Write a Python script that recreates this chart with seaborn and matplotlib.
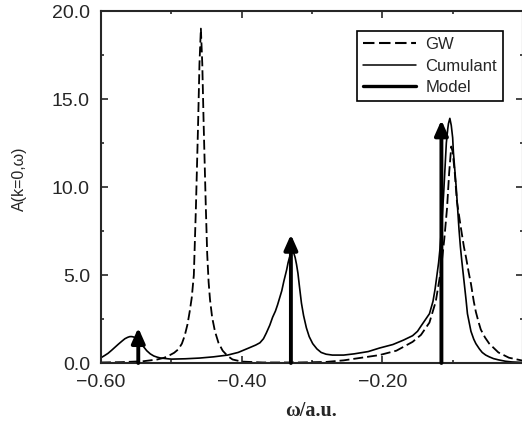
import matplotlib
matplotlib.use("Agg")
import matplotlib.pyplot as plt
import seaborn as sns
from matplotlib.lines import Line2D
from matplotlib.ticker import MultipleLocator

# --- valores ---
# GW (tracejado)
gw_omega = [-0.600, -0.570, -0.540, -0.520, -0.510, -0.502, -0.496, -0.490, -0.485, -0.481,
            -0.477, -0.474, -0.471, -0.468, -0.465, -0.462, -0.460, -0.458, -0.456, -0.454,
            -0.451, -0.449, -0.447, -0.445, -0.442, -0.438, -0.433, -0.427, -0.420, -0.413,
            -0.400, -0.370, -0.320, -0.280, -0.255, -0.233, -0.204, -0.180, -0.157, -0.145,
            -0.133, -0.124, -0.117, -0.112, -0.108, -0.105, -0.102, -0.100, -0.097, -0.094,
            -0.091, -0.088, -0.084, -0.081, -0.077, -0.074, -0.070, -0.067, -0.063, -0.060,
            -0.054, -0.048, -0.035, -0.020, 0.000]
gw_A = [0.03, 0.05, 0.10, 0.20, 0.30, 0.45, 0.58, 0.78, 1.10, 1.55,
        2.20, 2.90, 3.70, 5.00, 8.90, 13.5, 17.0, 19.0, 17.0, 13.5,
        8.90, 6.20, 4.60, 3.60, 2.60, 1.80, 1.15, 0.70, 0.40, 0.20,
        0.08, 0.03, 0.03, 0.06, 0.15, 0.28, 0.45, 0.70, 1.20, 1.60,
        2.30, 3.50, 5.20, 7.00, 8.80, 10.8, 12.3, 12.0, 10.8, 9.2,
        8.4, 7.6, 6.6, 6.0, 5.1, 4.5, 3.5, 2.9, 2.3, 1.9,
        1.45, 1.1, 0.6, 0.3, 0.13]

# Cumulante (linha fina)
cum_omega = [-0.600, -0.595, -0.590, -0.585, -0.580, -0.575, -0.570, -0.566, -0.562, -0.559,
             -0.556, -0.553, -0.550, -0.546, -0.543, -0.539, -0.535, -0.530, -0.525, -0.520,
             -0.515, -0.500, -0.480, -0.460, -0.440, -0.420, -0.405, -0.390, -0.380, -0.374,
             -0.369, -0.365, -0.360, -0.356, -0.352, -0.349, -0.346, -0.343, -0.340, -0.336,
             -0.334, -0.332, -0.330, -0.328, -0.326, -0.324, -0.322, -0.320, -0.318, -0.315,
             -0.312, -0.308, -0.304, -0.299, -0.293, -0.287, -0.280, -0.271, -0.255, -0.240,
             -0.220, -0.204, -0.185, -0.170, -0.157, -0.150, -0.145, -0.139, -0.133, -0.128,
             -0.125, -0.122, -0.120, -0.118, -0.116, -0.113, -0.111, -0.109, -0.107, -0.106,
             -0.104, -0.102, -0.100, -0.099, -0.097, -0.095, -0.093, -0.091, -0.089, -0.087,
             -0.084, -0.081, -0.079, -0.076, -0.074, -0.070, -0.067, -0.062, -0.058, -0.053,
             -0.048, -0.042, -0.035, -0.025, -0.016, 0.000]
cum_A = [0.30, 0.42, 0.55, 0.72, 0.90, 1.08, 1.25, 1.38, 1.46, 1.50,
         1.50, 1.47, 1.40, 1.27, 1.10, 0.90, 0.70, 0.52, 0.40, 0.33,
         0.28, 0.22, 0.24, 0.28, 0.35, 0.45, 0.60, 0.85, 1.02, 1.15,
         1.38, 1.70, 2.15, 2.60, 2.95, 3.30, 3.70, 4.10, 4.65, 5.30,
         5.70, 6.00, 6.22, 6.30, 6.25, 6.00, 5.60, 5.10, 4.40, 3.40,
         2.70, 2.00, 1.50, 1.10, 0.80, 0.60, 0.50, 0.45, 0.45, 0.52,
         0.65, 0.85, 1.05, 1.30, 1.55, 1.80, 2.10, 2.45, 2.80, 3.50,
         4.20, 5.10, 5.70, 6.50, 7.60, 9.50, 11.0, 12.5, 13.3, 13.6,
         13.9, 13.5, 12.8, 12.0, 11.0, 10.0, 8.8, 7.6, 6.6, 5.8,
         4.7, 3.6, 2.8, 2.2, 1.8, 1.35, 1.1, 0.8, 0.6, 0.45,
         0.35, 0.25, 0.18, 0.10, 0.06, 0.03]

# Modelo (setas)
model_omega = [-0.547, -0.330, -0.116]
model_A = [2.0, 7.3, 13.8]

xtick_vals = [-0.60, -0.40, -0.20]
xtick_labels = ["\u22120.60", "\u22120.40", "\u22120.20"]
ytick_vals = [0, 5, 10, 15, 20]
ytick_labels = ["0.0", "5.0", "10.0", "15.0", "20.0"]

# --- estilo ---
sns.set_style("ticks")
plt.rcParams["font.family"] = ["Liberation Sans", "DejaVu Sans"]
plt.rcParams["axes.linewidth"] = 1.5

fig = plt.figure(figsize=(5.22, 4.28), dpi=100)
ax = fig.add_axes([101 / 522, 1 - 363 / 428, 422 / 522, 352 / 428])

sns.lineplot(x=gw_omega, y=gw_A, ax=ax, color="black", lw=1.3,
             linestyle=(0, (5.5, 2.2)), estimator=None, sort=False)
sns.lineplot(x=cum_omega, y=cum_A, ax=ax, color="black", lw=1.2,
             estimator=None, sort=False)

for w, a in zip(model_omega, model_A):
    ax.annotate("", xy=(w, a), xytext=(w, 0),
                arrowprops=dict(arrowstyle="-|>,head_length=0.45,head_width=0.2",
                                mutation_scale=20, lw=2.8, color="black",
                                shrinkA=0, shrinkB=0))

ax.set_xlim(-0.6, 0.0)
ax.set_ylim(0, 20)
ax.set_xticks(xtick_vals)
ax.set_xticklabels(xtick_labels)
ax.set_yticks(ytick_vals)
ax.set_yticklabels(ytick_labels)
ax.xaxis.set_minor_locator(MultipleLocator(0.1))
ax.yaxis.set_minor_locator(MultipleLocator(2.5))
ax.tick_params(which="both", direction="in", top=True, right=True, width=1.2)
ax.tick_params(which="major", length=5, labelsize=14, pad=8)
ax.tick_params(which="minor", length=2.5)

ax.set_xlabel("\u03c9/a.u.", fontsize=14.5, fontweight="bold", family="Liberation Serif")
ax.xaxis.set_label_coords(0.498, -0.108)
ax.set_ylabel("A(k=0,\u03c9)", fontsize=11.5)
ax.yaxis.set_label_coords(-0.175, 0.523)

handles = [
    Line2D([], [], color="black", lw=1.5, linestyle=(0, (5.5, 2.2))),
    Line2D([], [], color="black", lw=1.1),
    Line2D([], [], color="black", lw=2.4),
]
leg = ax.legend(handles, ["GW", "Cumulant", "Model"], loc="upper right",
                bbox_to_anchor=(0.9526, 0.943), borderaxespad=0, fontsize=12,
                frameon=True, fancybox=False, framealpha=1, edgecolor="black",
                handlelength=3.2, handletextpad=0.55, borderpad=0.35, labelspacing=0.4)
leg.get_frame().set_linewidth(1.2)

plt.savefig("out.png", dpi=100)
